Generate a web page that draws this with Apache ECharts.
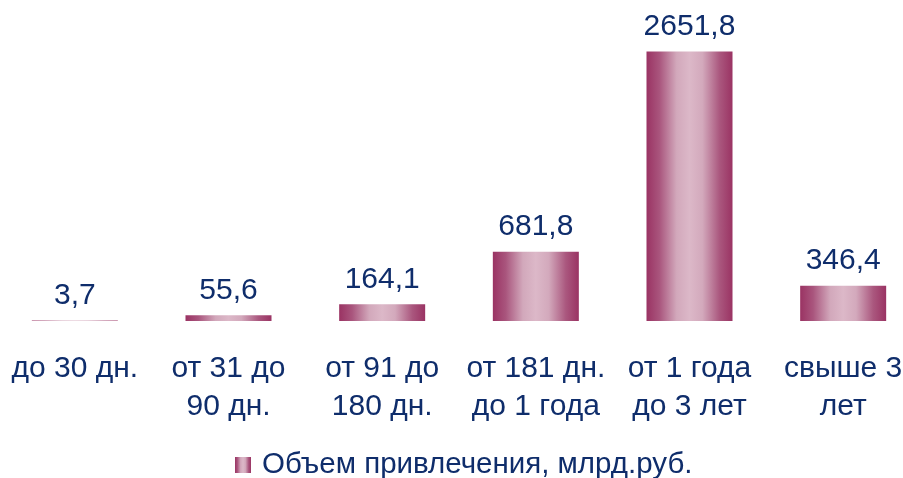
<!DOCTYPE html>
<html>
<head>
<meta charset="utf-8">
<style>
    html, body { margin: 0; padding: 0; background: #fff; }
    #chart { width: 903px; height: 478px; }
</style>
<script src="https://cdn.jsdelivr.net/npm/echarts@6/dist/echarts.min.js"></script>
</head>
<body>
<div id="chart"></div>
<script>
    // категории сроков
    var categories = ['до 30 дн.', 'от 31 до\n90 дн.', 'от 91 до\n180 дн.', 'от 181 дн.\nдо 1 года', 'от 1 года\nдо 3 лет', 'свыше 3\nлет'];
    var values = [3.7, 55.6, 164.1, 681.8, 2651.8, 346.4];
    var seriesName = 'Объем привлечения, млрд.руб.';

    var textColor = '#0F2D6B';
    var barGradient = new echarts.graphic.LinearGradient(0, 0, 1, 0, [
        {offset: 0, color: '#9A3363'},
        {offset: 0.15, color: '#A9557D'},
        {offset: 0.35, color: '#D2A8BB'},
        {offset: 0.5, color: '#DCB8C8'},
        {offset: 0.65, color: '#D3A9BC'},
        {offset: 0.85, color: '#AA577E'},
        {offset: 1, color: '#9A3363'}
    ]);

    var chart = echarts.init(document.getElementById('chart'));
    chart.setOption({
        animation: false,
        textStyle: {fontFamily: 'Liberation Sans, Arial, sans-serif'},
        grid: {
            left: -2,
            width: 922,
            top: 16,
            bottom: 157,
            outerBoundsMode: 'none'
        },
        legend: {
            bottom: -7,
            left: 230,
            data: [seriesName],
            icon: 'rect',
            itemWidth: 16,
            itemHeight: 16,
            itemGap: 10,
            textStyle: {color: textColor, fontSize: 29.5, padding: [0, 0, 0, 6]}
        },
        xAxis: {
            type: 'category',
            data: categories,
            axisLine: {show: false},
            axisTick: {show: false},
            axisLabel: {
                color: textColor,
                fontSize: 30,
                lineHeight: 38,
                margin: 29,
                interval: 0
            }
        },
        yAxis: {
            type: 'value',
            min: 0,
            max: 3000,
            show: false,
            splitLine: {show: false}
        },
        series: [{
            name: seriesName,
            type: 'bar',
            data: values,
            barWidth: 86,
            itemStyle: {color: barGradient},
            label: {
                show: true,
                position: 'top',
                distance: 10,
                color: textColor,
                fontSize: 30,
                formatter: function (p) {
                    return String(p.value).replace('.', ',');
                }
            }
        }]
    });
</script>
</body>
</html>
